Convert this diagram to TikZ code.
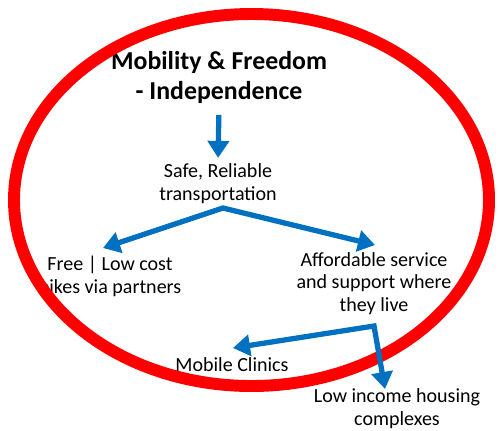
\documentclass[tikz,border=0pt]{standalone}
\usepackage{fontspec}
\setmainfont{Carlito}
\usetikzlibrary{arrows.meta}

\definecolor{arrowblue}{HTML}{0070C0}
\definecolor{ringred}{HTML}{FF0000}

\tikzset{
  label/.style={align=center, inner sep=1pt, font=\fontsize{11.4}{13}\selectfont},
  heading/.style={align=center, inner sep=1pt, font=\fontsize{14.7}{17.6}\selectfont\bfseries},
  flow/.style={draw=arrowblue, line width=3pt, miter limit=10,
    arrows={-Triangle[width=0.42cm,length=0.34cm]}},
  ring/.style={draw=ringred, line width=6.8pt}
}

\begin{document}
\begin{tikzpicture}[x=0.02cm, y=-0.02cm]
  \useasboundingbox (0,0) rectangle (499,430);

  \node[heading] (goal) at (219,77.5) {Mobility \& Freedom\\- Independence};
  \node[label] (transport) at (218,183.5) {Safe, Reliable\\transportation};
  \node[label] (bikes) at (110,276.5) {Free | Low cost\\bikes via partners};
  \node[label] (service) at (374,283.5) {Affordable service\\and support where\\they live};
  \node[label] (clinics) at (232,365) {Mobile Clinics};
  \node[label] (housing) at (397,408.5) {Low income housing\\complexes};

  % red ring goes over the text
  \draw[ring] (251.5,200) ellipse [x radius=237.5, y radius=186];

  \coordinate (fork1) at (223,208);
  \coordinate (fork2) at (374,326);
  \coordinate (bikestip) at (103,248);
  \coordinate (servicetip) at (375,245);
  \coordinate (clinicstip) at (233,348);
  \coordinate (housingtip) at (385,389);

  \draw[flow, shorten <=5pt, shorten >=2pt] (goal.south) -- (transport.north);
  \draw[flow, arrows={Triangle[width=0.42cm,length=0.34cm]-Triangle[width=0.42cm,length=0.34cm]}]
    (bikestip) -- (fork1) -- (servicetip);
  \draw[flow, arrows={Triangle[width=0.42cm,length=0.34cm]-Triangle[width=0.42cm,length=0.34cm]}]
    (clinicstip) -- (fork2) -- (housingtip);
\end{tikzpicture}
\end{document}
